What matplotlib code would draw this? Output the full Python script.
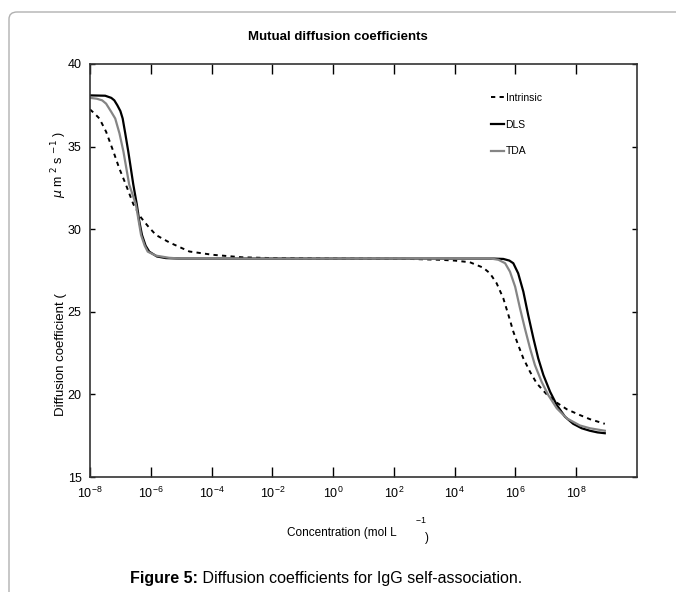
import numpy as np
import matplotlib
matplotlib.use("Agg")
import matplotlib.pyplot as plt
from matplotlib.patches import FancyBboxPatch

plt.rcParams['font.family'] = ['Liberation Sans', 'DejaVu Sans']

# log10 concentration and diffusion coefficient
dls_logc = [-8, -7.5, -7.3, -7.2, -7.1, -7.0, -6.925, -6.84, -6.74, -6.575, -6.46, -6.38, -6.29, -6.17,
            -6.05, -5.8, -5.5, -5, 0,
            5.3, 5.6, 5.8, 5.93, 6.09, 6.26, 6.42, 6.59, 6.75, 6.92, 7.14, 7.36, 7.63, 7.9,
            8.18, 8.45, 8.7, 8.94]
dls_d = [38.1, 38.08, 37.95, 37.8, 37.5, 37.15, 36.7, 35.8, 34.7, 32.7, 31.5, 30.5, 29.65, 29.0,
         28.64, 28.35, 28.25, 28.22, 28.22,
         28.22, 28.2, 28.1, 27.94, 27.33, 26.22, 24.8, 23.4, 22.18, 21.17, 20.16, 19.36, 18.65, 18.22,
         17.95, 17.8, 17.7, 17.65]

tda_logc = [-8, -7.78, -7.6, -7.47, -7.3, -7.17, -7.03, -6.9, -6.71, -6.49, -6.32, -6.2, -6.1, -5.83,
            -5.4, -5, 0,
            5.2, 5.44, 5.66, 5.82, 5.99, 6.15, 6.31, 6.48, 6.64, 6.86, 7.08, 7.36, 7.69, 8.12,
            8.45, 8.94]
tda_d = [37.95, 37.9, 37.8, 37.6, 37.1, 36.7, 35.8, 34.7, 32.7, 31.5, 29.65, 29.0, 28.64, 28.4,
         28.27, 28.22, 28.22,
         28.22, 28.15, 27.94, 27.43, 26.52, 25.21, 24.0, 22.79, 21.78, 20.77, 19.96, 19.16, 18.55, 18.12,
         17.95, 17.8]

intr_logc = [-8, -7.85, -7.69, -7.47, -7.23, -7.04, -6.82, -6.57, -6.32, -6.1, -5.83, -5.39, -4.73,
             -3.96, -3.0, -2, 0, 2.5, 3.5, 4.0, 4.5, 4.94, 5.16, 5.38, 5.6, 5.77, 5.93, 6.09, 6.26,
             6.48, 6.7, 7.03, 7.36, 7.69, 8.12, 8.45, 8.94]
intr_d = [37.25, 37.0, 36.7, 35.9, 34.7, 33.7, 32.7, 31.5, 30.7, 30.2, 29.65, 29.2, 28.65,
          28.45, 28.3, 28.25, 28.22, 28.2, 28.15, 28.1, 28.0, 27.67, 27.33, 26.73, 25.82, 24.8, 23.8, 22.99, 22.18,
          21.37, 20.67, 20.0, 19.5, 19.1, 18.75, 18.5, 18.22]

xtick_exp = [-8, -6, -4, -2, 0, 2, 4, 6, 8]
ytick_vals = [15, 20, 25, 30, 35, 40]

fig = plt.figure(figsize=(6.76, 5.92), dpi=100)

# page frame around the figure
frame = FancyBboxPatch((9/676, -0.1), 1.2, 1.1 - 12/592, boxstyle="round,pad=0,rounding_size=0.012",
                       transform=fig.transFigure, fill=False, edgecolor="#b0b0b0", linewidth=1.0)
fig.patches.append(frame)

ax = fig.add_axes([90/676, 1 - 477/592, 547/676, 413/592])
ax.plot(10.0**np.array(intr_logc), intr_d, color="black", lw=1.4, linestyle=(0, (2.2, 2.2)), label="Intrinsic")
ax.plot(10.0**np.array(dls_logc), dls_d, color="black", lw=1.6, label="DLS")
ax.plot(10.0**np.array(tda_logc), tda_d, color="#858585", lw=1.6, label="TDA")

ax.set_xscale("log")
ax.set_xlim(1e-8, 1e10)
ax.set_ylim(15, 40)
ax.set_xticks([10.0**e for e in xtick_exp])
ax.set_xticklabels([r"$\mathregular{10^{%d}}$" % e for e in xtick_exp])
ax.xaxis.set_minor_locator(matplotlib.ticker.NullLocator())
ax.set_yticks(ytick_vals)
ax.tick_params(axis="x", direction="in", length=7, width=1, top=True, labelsize=9, pad=6)
ax.tick_params(axis="y", direction="in", length=3.8, width=1, right=True, labelsize=9, pad=6)
for s in ax.spines.values():
    s.set_linewidth(1.2)
    s.set_color("#333333")

ax.legend(loc="upper left", bbox_to_anchor=(0.733, 0.93), frameon=False, fontsize=7.5,
          handlelength=1.3, handletextpad=0.1, labelspacing=1.6, borderpad=0, borderaxespad=0)

fig.text(0.5, 1 - 37/592, "Mutual diffusion coefficients", ha="center", va="center",
         fontsize=9.5, fontweight="bold")

# axis labels, split like the original
fig.text(61/676, 1 - 355/592, "Diffusion coefficient (", rotation=90, ha="center", va="center",
         fontsize=9.5)
fig.text(59/676, 1 - 165/592, r"$\mu$ m $^{2}$ s $^{-1}$ )", rotation=90, ha="center", va="center",
         fontsize=9)
fig.text(342/676, 1 - 533/592, "Concentration (mol L", ha="center", va="center", fontsize=8.5)
fig.text(421/676, 1 - 524/592, r"$\mathregular{^{-1}}$", ha="center", va="center", fontsize=9)
fig.text(427/676, 1 - 538/592, ")", ha="center", va="center", fontsize=8.5)

# caption: bold prefix, then the rest right after it
cap = fig.text(130/676, 1 - 578/592, "Figure 5:", ha="left", va="center", fontsize=11.5,
               fontweight="bold")
ax.annotate(" Diffusion coefficients for IgG self-association.", xy=(1, 0), xycoords=cap,
            ha="left", va="bottom", fontsize=11.5)

fig.savefig("out.png", dpi=100)
